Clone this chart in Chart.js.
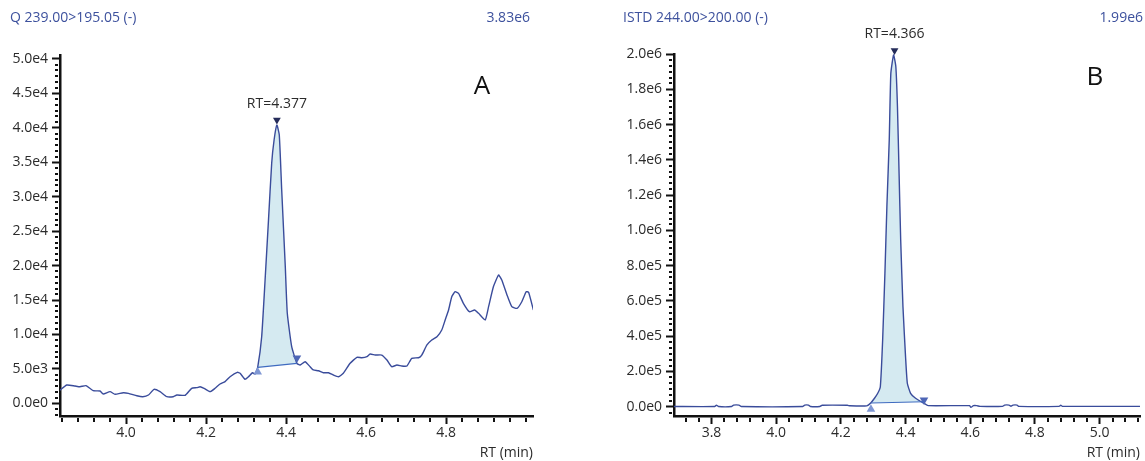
<!DOCTYPE html>
<html>
<head>
<meta charset="utf-8">
<script src="https://cdn.jsdelivr.net/npm/chart.js@4.4.1/dist/chart.umd.min.js"></script>
<style>
  html, body { margin: 0; padding: 0; background: #fff; }
  #marco { position: relative; width: 1145px; height: 461px; }
  canvas { position: absolute; top: 0; }
</style>
</head>
<body>
<div id="marco">
  <canvas id="graficaA" width="560" height="461" style="left:0"></canvas>
  <canvas id="graficaB" width="585" height="461" style="left:560px"></canvas>
</div>
<script>
// Panel A: Q 239.00>195.05 (-)
const rtA = [3.835, 3.852, 3.8725, 3.885, 3.9, 3.918, 3.935, 3.943, 3.96, 3.9725, 3.993, 4.006, 4.027, 4.042, 4.056, 4.07, 4.085, 4.102, 4.118, 4.127,
  4.1475, 4.164, 4.177, 4.185, 4.195, 4.21, 4.2225, 4.235, 4.2475, 4.26, 4.278, 4.285, 4.2975, 4.306, 4.316, 4.3225,
  4.329, 4.339, 4.3475, 4.356, 4.364, 4.37, 4.377, 4.383, 4.389, 4.398, 4.403, 4.414, 4.427,
  4.435, 4.4475, 4.46, 4.468, 4.481, 4.493, 4.506, 4.518, 4.531, 4.543, 4.56, 4.577, 4.589, 4.602, 4.61, 4.6225, 4.639, 4.652, 4.664, 4.677,
  4.689, 4.702, 4.714, 4.731, 4.739, 4.752, 4.764, 4.777, 4.789, 4.7975, 4.806, 4.814, 4.8225, 4.831, 4.843, 4.858, 4.871, 4.881, 4.8975,
  4.906, 4.918, 4.931, 4.939, 4.952, 4.964, 4.977, 4.989, 5.0, 5.006, 5.018];
const intA = [1900, 2660, 2510, 2410, 2560, 1830, 1790, 1350, 1690, 1310, 1540, 1450, 1100, 960, 1200, 2030, 1690, 960, 960, 1200,
  1160, 2180, 2270, 2410, 2180, 1690, 2180, 2800, 3140, 3860, 4500, 4360, 3480, 3860, 4440, 4250,
  5230, 9670, 17900, 26600, 34850, 38240, 40400, 38970, 31000, 19840, 13070, 8220, 5800,
  5560, 6040, 5310, 4840, 4730, 4440, 4440, 4110, 3860, 4360, 5810, 6680, 6620, 6770, 7160, 7010, 7010, 6290, 5310, 5560,
  5420, 5420, 6530, 6620, 7010, 8470, 9190, 9670, 10640, 12100, 13550, 15480, 16210, 15970, 14520, 13300, 13550, 13070, 12100,
  14030, 16930, 18630, 17900, 15730, 14030, 13790, 14750, 16210, 16120, 13550];
const baseRtA = [4.329, 4.427];
const baseIntA = [5230, 5800];
const marcaRtA = [4.329, 4.427, 4.377];     // inicio, fin, apice
const marcaIntA = [4550, 6580, 41150];
const ticksXA = [4.0, 4.2, 4.4, 4.6, 4.8];
const ticksYA = [0, 5000, 10000, 15000, 20000, 25000, 30000, 35000, 40000, 45000, 50000];

// Panel B: ISTD 244.00>200.00 (-)
const rtB = [3.684, 3.81, 3.815, 3.822, 3.862, 3.868, 3.885, 3.892, 4.082, 4.088, 4.1, 4.106, 4.135, 4.142, 4.22, 4.228, 4.28,
  4.293, 4.304, 4.314, 4.322, 4.3292, 4.3362, 4.3423, 4.3496, 4.3545, 4.363, 4.37, 4.375, 4.38, 4.385, 4.392, 4.4, 4.4055, 4.4156, 4.431, 4.4565,
  4.47, 4.598, 4.602, 4.61, 4.62, 4.63, 4.7, 4.706, 4.72, 4.726, 4.732, 4.745, 4.75, 4.875, 4.88, 4.885, 5.125];
const intB = [1000, 1000, 9000, 1000, 1000, 9000, 9000, 1000, 1000, 9000, 9000, 1000, 1000, 8000, 8000, 5000, 5000,
  23000, 48000, 76000, 113000, 378000, 756000, 1134000, 1512000, 1890000, 1995000, 1928000, 1700000, 1323000, 945000, 567000, 284000, 133000, 76000, 48000, 20000,
  6000, 6000, -4000, 6000, 6000, 2000, 2000, 9000, 9000, 3000, 9000, 9000, 2000, 2000, 8000, 2000, 2000];
const baseRtB = [4.293, 4.4565];
const baseIntB = [21000, 28000];
const marcaRtB = [4.293, 4.457, 4.366];
const marcaIntB = [-15000, 38000, 2020000];
const ticksXB = [3.8, 4.0, 4.2, 4.4, 4.6, 4.8, 5.0];
const ticksYB = [0, 200000, 400000, 600000, 800000, 1000000, 1200000, 1400000, 1600000, 1800000, 2000000];

const colorTraza = '#3a4c9b';
const colorRelleno = '#d5eaf1';
const colorBase = '#3f6bc0';
const colorInicio = '#7f97d3';
const colorFin = '#4e66b6';
const colorApice = '#252c5a';
const colorTitulo = '#3d519d';
const colorTexto = '#2b2b2b';
const fuente = '"Open Sans", "Noto Sans", sans-serif';

// Texto de cabecera, letra del panel, etiqueta RT y ticks menores
const textoPanel = {
  id: 'textoPanel',
  afterDraw(chart, args, op) {
    const ctx = chart.ctx;
    const sx = chart.scales.x, sy = chart.scales.y;
    const area = chart.chartArea;
    ctx.save();
    ctx.textBaseline = 'middle';
    ctx.fillStyle = colorTitulo;
    ctx.font = '14px ' + fuente;
    ctx.textAlign = 'left';
    ctx.fillText(op.titulo, op.tituloX, 18);
    ctx.textAlign = 'right';
    ctx.fillText(op.maximo, op.maximoX, 18);

    ctx.fillStyle = '#111';
    ctx.font = '26px ' + fuente;
    ctx.textAlign = 'center';
    ctx.fillText(op.letra, op.letraX, op.letraY);

    ctx.fillStyle = colorTexto;
    ctx.font = '14px ' + fuente;
    const px = sx.getPixelForValue(op.rt), py = sy.getPixelForValue(op.rtInt);
    ctx.fillText('RT=' + op.rt.toFixed(3), px, py - 16);

    // ticks menores
    ctx.fillStyle = '#111';
    for (let k = 0; ; k++) {
      const v = op.menorX0 + k * op.pasoX;
      if (v > sx.max) break;
      if (op.ticksX.some(t => Math.abs(t - v) < 1e-6)) continue;
      const x = Math.round(sx.getPixelForValue(v));
      ctx.fillRect(x - 1, area.bottom + 2, 2, 4);
    }
    const pasoY = op.pasoY / 6;
    for (let k = -2; ; k++) {
      const v = k * pasoY;
      if (v > sy.max) break;
      if (v < sy.min || k % 6 === 0) continue;
      const y = Math.round(sy.getPixelForValue(v));
      ctx.fillRect(area.left - 5, y - 1, 3, 2);
    }
    ctx.restore();
  }
};

function armarDatos(rt, inten, baseRt, baseInt, marcaRt, marcaInt) {
  const traza = rt.map((x, i) => ({ x: x, y: inten[i] }));
  const pico = traza.filter(p => p.x >= baseRt[0] - 1e-9 && p.x <= baseRt[1] + 1e-9);
  const base = baseRt.map((x, i) => ({ x: x, y: baseInt[i] }));
  const marca = (i, color, giro, radio) => ({
    data: [{ x: marcaRt[i], y: marcaInt[i] }],
    showLine: false, pointStyle: 'triangle', pointRotation: giro, pointRadius: radio,
    pointBackgroundColor: color, pointBorderColor: color, pointBorderWidth: 0, clip: false
  });
  return [
    { data: pico, fill: '+1', backgroundColor: colorRelleno, borderWidth: 0, pointRadius: 0, tension: 0.15 },
    { data: base, fill: false, borderColor: colorBase, borderWidth: 1.2, pointRadius: 0 },
    marca(0, colorInicio, 0, 5),
    marca(1, colorFin, 180, 5),
    marca(2, colorApice, 180, 4.5),
    { data: traza, fill: false, borderColor: colorTraza, borderWidth: 1.4, pointRadius: 0, tension: 0.15 }
  ];
}

function crearGrafica(id, datos, ejes, texto) {
  const fuenteTick = { family: fuente, size: 14 };
  new Chart(document.getElementById(id), {
    type: 'line',
    data: { datasets: datos },
    options: {
      responsive: false,
      animation: false,
      devicePixelRatio: 1,
      layout: { padding: { top: ejes.arriba, right: ejes.derecha, left: 0, bottom: 0 } },
      plugins: {
        legend: { display: false },
        tooltip: { enabled: false },
        filler: { drawTime: 'beforeDatasetsDraw' },
        textoPanel: texto
      },
      scales: {
        x: {
          type: 'linear', min: ejes.xMin, max: ejes.xMax,
          afterBuildTicks: s => { s.ticks = ejes.ticksX.map(v => ({ value: v })); },
          afterFit: s => { s.height = 45; },
          ticks: { callback: v => v.toFixed(1), font: fuenteTick, color: colorTexto, padding: 1, maxRotation: 0, autoSkip: false },
          grid: { display: true, drawOnChartArea: false, drawTicks: true, tickLength: 8, tickWidth: 2, tickColor: '#111' },
          border: { display: true, color: '#111', width: 2.5 },
          title: { display: true, text: 'RT (min)', align: 'end', font: fuenteTick, color: colorTexto, padding: 0 }
        },
        y: {
          type: 'linear', min: ejes.yMin, max: ejes.yMax,
          afterBuildTicks: s => { s.ticks = ejes.ticksY.map(v => ({ value: v })); },
          afterFit: s => { s.width = ejes.anchoY; },
          ticks: { callback: v => v.toExponential(1).replace('e+', 'e'), font: fuenteTick, color: colorTexto, padding: 4, autoSkip: false },
          grid: { display: true, drawOnChartArea: false, drawTicks: true, tickLength: 8, tickWidth: 2, tickColor: '#111' },
          border: { display: true, color: '#111', width: 2.5 }
        }
      }
    },
    plugins: [textoPanel]
  });
}

crearGrafica('graficaA', armarDatos(rtA, intA, baseRtA, baseIntA, marcaRtA, marcaIntA),
  { xMin: 3.835, xMax: 5.017, yMin: -1844, yMax: 50580, ticksX: ticksXA, ticksY: ticksYA, anchoY: 60, arriba: 55, derecha: 27 },
  { titulo: 'Q 239.00>195.05 (-)', tituloX: 10, maximo: '3.83e6', maximoX: 530, letra: 'A', letraX: 482, letraY: 87,
    rt: marcaRtA[2], rtInt: marcaIntA[2], menorX0: 3.84, pasoX: 0.04, ticksX: ticksXA, pasoY: 5000 });

crearGrafica('graficaB', armarDatos(rtB, intB, baseRtB, baseIntB, marcaRtB, marcaIntB),
  { xMin: 3.684, xMax: 5.125, yMin: -52700, yMax: 2000000, ticksX: ticksXB, ticksY: ticksYB, anchoY: 114, arriba: 54, derecha: 0 },
  { titulo: 'ISTD 244.00>200.00 (-)', tituloX: 63, maximo: '1.99e6', maximoX: 583, letra: 'B', letraX: 535, letraY: 78,
    rt: marcaRtB[2], rtInt: marcaIntB[2], menorX0: 3.72, pasoX: 0.04, ticksX: ticksXB, pasoY: 200000 });
</script>
</body>
</html>
